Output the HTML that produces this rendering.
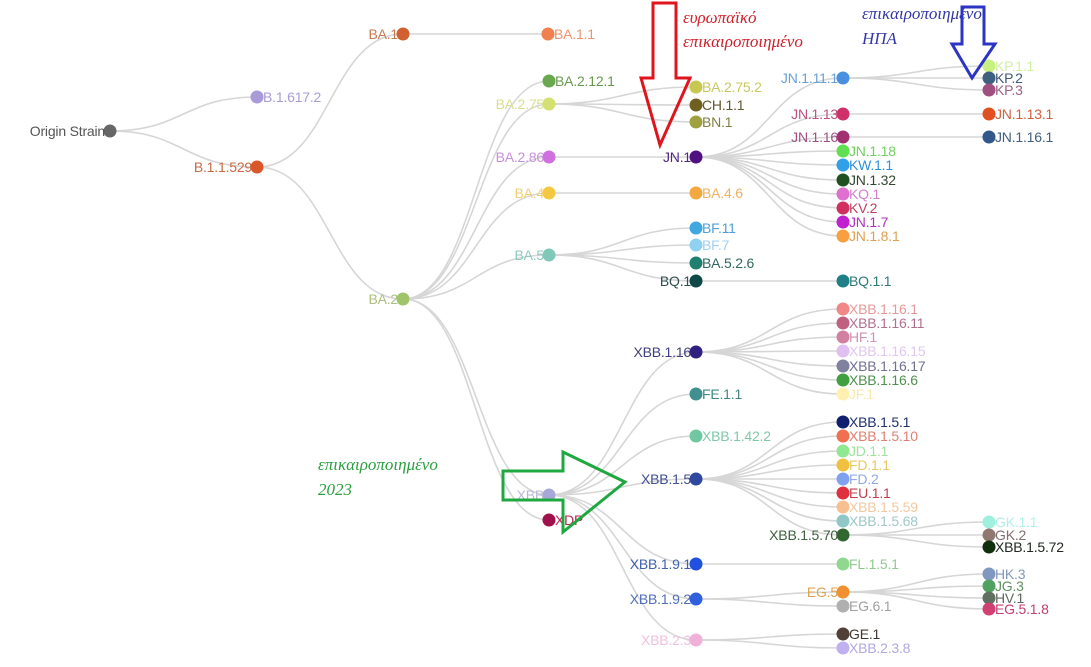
<!DOCTYPE html>
<html><head><meta charset="utf-8"><style>
html,body{margin:0;padding:0;background:#fff;width:1091px;height:667px;overflow:hidden}
svg{display:block}
.l{font-family:"Liberation Sans",Arial,sans-serif;font-size:14px;letter-spacing:-0.2px}
.g{font-family:"Liberation Serif","DejaVu Serif",serif;font-style:italic;font-size:17px}
</style></head><body>
<svg id="s" width="1091" height="667" xmlns="http://www.w3.org/2000/svg">
<g id="E" fill="none" stroke="#d6d6d6" stroke-width="1.6"></g>
<g id="N"></g>
<text class="g" x="683" y="23" fill="#d0202a">ευρωπαϊκό</text>
<text class="g" x="683" y="47" fill="#d0202a">επικαιροποιημένο</text>
<text class="g" x="862" y="19" fill="#3236a8">επικαιροποιημένο</text>
<text class="g" x="862" y="44" fill="#3236a8">ΗΠΑ</text>
<text class="g" x="318" y="470" fill="#2aa040">επικαιροποιημένο</text>
<text class="g" x="318" y="495" fill="#2aa040">2023</text>
<polygon points="653,3 676,3 676,78 690,78 660,145 641,78 653,78" fill="none" stroke="#e0141c" stroke-width="3"/>
<polygon points="962,7 984,7 984,44 995,44 972,78 952,44 962,44" fill="none" stroke="#2c34c4" stroke-width="3"/>
<polygon points="503,471 563,471 563,452 625,482 563,532 563,500 503,500" fill="none" stroke="#20a840" stroke-width="3"/>
</svg>
<script>
var D=[
["o","Origin Strain",110,131,"L","#666","#555",null],
["b1","B.1.617.2",257,97,"R","#a99ad8","#a99ad8","o"],
["b2","B.1.1.529",257,167,"L","#d9572a","#c86a44","o"],
["ba1","BA.1",403,34,"L","#d06030","#c87a55","b2"],
["ba11","BA.1.1",548,34,"R","#f08050","#f09070","ba1"],
["ba2","BA.2",403,299,"L","#9fc46a","#a8c080","b2"],
["a","BA.2.12.1",549,81,"R","#6aa84f","#6a9a50","ba2"],
["ba275","BA.2.75",549,104,"L","#d4e070","#d8e090","ba2"],
["ba286","BA.2.86",549,157,"L","#d070e0","#c890dc","ba2"],
["ba4","BA.4",549,193,"L","#f4c842","#f0d070","ba2"],
["ba5","BA.5",549,255,"L","#80c8b8","#90c8c0","ba2"],
["xbb","XBB",549,495,"L","#a8a8d8","#b8b8d8","ba2"],
["xdp","XDP",549,520,"R","#a0104a","#c02050","ba2"],
["c1","BA.2.75.2",696,87,"R","#c8c850","#c8c860","ba275"],
["c2","CH.1.1",696,105,"R","#706020","#605830","ba275"],
["c3","BN.1",696,122,"R","#a0a040","#808040","ba275"],
["jn1","JN.1",696,157,"L","#501080","#502880","ba286"],
["c4","BA.4.6",696,193,"R","#f4a840","#f0b060","ba4"],
["c5","BF.11",696,228,"R","#40a8e0","#50a0d8","ba5"],
["c6","BF.7",696,245,"R","#90d0f0","#a0d0f0","ba5"],
["c7","BA.5.2.6",696,263,"R","#208070","#306860","ba5"],
["bq1","BQ.1",696,281,"L","#104848","#305050","ba5"],
["bq11","BQ.1.1",843,281,"R","#208088","#307878","bq1"],
["j111","JN.1.11.1",843,78,"L","#4a90e0","#6aa0d8","jn1"],
["j113","JN.1.13",843,114,"L","#d03068","#c05080","jn1"],
["j116","JN.1.16",843,137,"L","#a03070","#a05080","jn1"],
["d1","JN.1.18",843,151,"R","#60e050","#70d060","jn1"],
["d2","KW.1.1",843,165,"R","#30a0e8","#3090d8","jn1"],
["d3","JN.1.32",843,180,"R","#205020","#304830","jn1"],
["d4","KQ.1",843,194,"R","#e070d0","#d080d0","jn1"],
["d5","KV.2",843,208,"R","#d03060","#c04060","jn1"],
["d6","JN.1.7",843,222,"R","#c020d0","#b030c0","jn1"],
["d7","JN.1.8.1",843,236,"R","#f8a040","#e0a050","jn1"],
["e1","KP.1.1",989,66,"R","#c8f080","#d0f0a0","j111"],
["e2","KP.2",989,78,"R","#406080","#405878","j111"],
["e3","KP.3",989,90,"R","#a05080","#a06080","j111"],
["e4","JN.1.13.1",989,114,"R","#e05020","#d06040","j113"],
["e5","JN.1.16.1",989,137,"R","#305888","#406080","j116"],
["x116","XBB.1.16",696,352,"L","#302080","#404080","xbb"],
["fe","FE.1.1",696,394,"R","#409090","#408880","xbb"],
["x142","XBB.1.42.2",696,436,"R","#70c8a0","#80c8a8","xbb"],
["x15","XBB.1.5",696,479,"L","#3048a0","#405090","xbb"],
["x191","XBB.1.9.1",696,564,"L","#2050e0","#4060b0","xbb"],
["x192","XBB.1.9.2",696,599,"L","#3060e0","#5070b8","xbb"],
["x23","XBB.2.3",696,640,"L","#f0b0d8","#f0c0e0","xbb"],
["f1","XBB.1.16.1",843,309,"R","#f08888","#e89898","x116"],
["f2","XBB.1.16.11",843,323,"R","#c06080","#b07090","x116"],
["f3","HF.1",843,337,"R","#d080a0","#d090b0","x116"],
["f4","XBB.1.16.15",843,351,"R","#e0c0f0","#e0c8f0","x116"],
["f5","XBB.1.16.17",843,366,"R","#8080a0","#707090","x116"],
["f6","XBB.1.16.6",843,380,"R","#40a040","#509050","x116"],
["f7","JF.1",843,394,"R","#fff0b0","#f8e8b0","x116"],
["g1","XBB.1.5.1",843,422,"R","#102070","#203070","x15"],
["g2","XBB.1.5.10",843,436,"R","#f07050","#e08070","x15"],
["g3","JD.1.1",843,451,"R","#90e890","#a0e0a0","x15"],
["g4","FD.1.1",843,465,"R","#f0c040","#e8c860","x15"],
["g5","FD.2",843,479,"R","#80a0f0","#90a8e8","x15"],
["g6","EU.1.1",843,493,"R","#e03040","#c04050","x15"],
["g7","XBB.1.5.59",843,507,"R","#f8c090","#f0c8a0","x15"],
["g8","XBB.1.5.68",843,521,"R","#90c8c8","#a0c8c8","x15"],
["x1570","XBB.1.5.70",843,535,"L","#306830","#406040","x15"],
["h1","GK.1.1",989,522,"R","#a0f0e0","#b0f0e8","x1570"],
["h2","GK.2",989,535,"R","#907870","#807070","x1570"],
["h3","XBB.1.5.72",989,547,"R","#103010","#202820","x1570"],
["fl","FL.1.5.1",843,564,"R","#90d890","#90c890","x191"],
["eg5","EG.5",843,592,"L","#f09030","#e0a050","x192"],
["eg61","EG.6.1",843,606,"R","#b0b0b0","#a0a0a0","x192"],
["i1","HK.3",989,574,"R","#8098c0","#8098b8","eg5"],
["i2","JG.3",989,586,"R","#50a060","#609060","eg5"],
["i3","HV.1",989,598,"R","#607060","#606860","eg5"],
["i4","EG.5.1.8",989,609,"R","#d04070","#c04070","eg5"],
["ge","GE.1",843,634,"R","#504038","#403830","x23"],
["x238","XBB.2.3.8",843,648,"R","#c0b0f0","#b0a8e0","x23"]];
var M={},ns="http://www.w3.org/2000/svg",E=document.getElementById("E"),N=document.getElementById("N");
D.forEach(function(d){M[d[0]]=d;});
D.forEach(function(d){if(!d[7])return;var p=M[d[7]],mx=(p[2]+d[2])/2;
var e=document.createElementNS(ns,"path");e.setAttribute("d","M"+p[2]+" "+p[3]+"C"+mx+" "+p[3]+","+mx+" "+d[3]+","+d[2]+" "+d[3]);E.appendChild(e);});
D.forEach(function(d){var c=document.createElementNS(ns,"circle");c.setAttribute("cx",d[2]);c.setAttribute("cy",d[3]);c.setAttribute("r",6.5);c.setAttribute("fill",d[5]);N.appendChild(c);
var t=document.createElementNS(ns,"text");t.setAttribute("class","l");t.setAttribute("y",d[3]+5);t.setAttribute("fill",d[6]);
if(d[4]=="L"){t.setAttribute("x",d[2]-5);t.setAttribute("text-anchor","end");}else{t.setAttribute("x",d[2]+6);}
t.textContent=d[1];N.appendChild(t);});
</script>
</body></html>
